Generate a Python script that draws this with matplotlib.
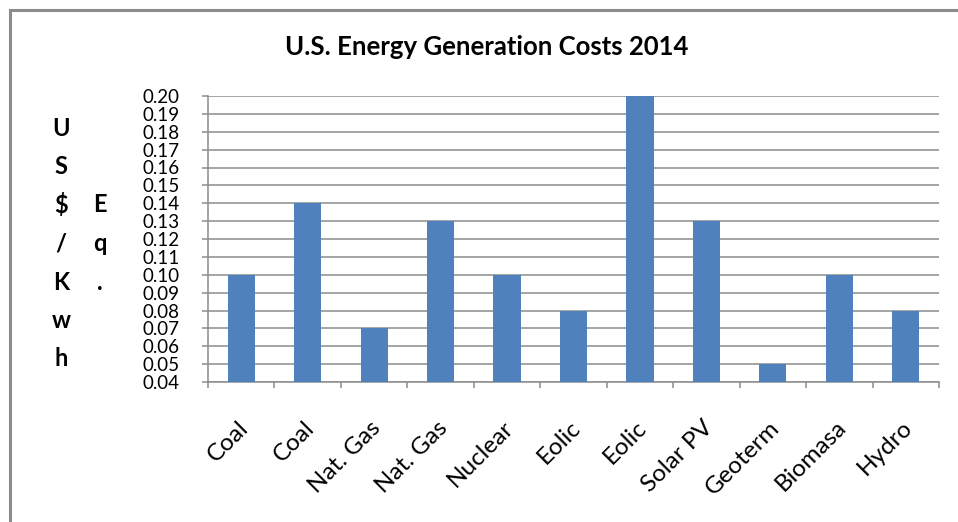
import matplotlib
matplotlib.use("Agg")
import matplotlib.pyplot as plt
from matplotlib.patches import Rectangle
from matplotlib.ticker import FixedLocator, MultipleLocator
import matplotlib.transforms as mtransforms

categories = ["Coal", "Coal", "Nat. Gas", "Nat. Gas", "Nuclear", "Eolic", "Eolic",
              "Solar PV", "Geoterm", "Biomasa", "Hydro"]
costs = [0.10, 0.14, 0.07, 0.13, 0.10, 0.08, 0.20, 0.13, 0.05, 0.10, 0.08]
title = "U.S. Energy Generation Costs 2014"
ylabel_col1 = ["U", "S", "$", "/", "K", "w", "h"]
ylabel_col2 = ["E", "q", "."]

FONT = "Lato"
GRAY = "#8c8c8c"
BAR = "#4F81BD"

W, H = 958, 522
fig = plt.figure(figsize=(W / 100, H / 100), dpi=100)
ax = fig.add_axes([208 / W, 1 - 382 / H, (939 - 208) / W, (382 - 96) / H])

x = list(range(len(categories)))
ax.bar(x, costs, width=0.41, color=BAR, zorder=3)

ax.set_xlim(-0.5, len(categories) - 0.5)
ax.set_ylim(0.04, 0.20)
ax.yaxis.set_major_locator(MultipleLocator(0.01))
ax.yaxis.set_major_formatter(matplotlib.ticker.FormatStrFormatter("%.2f"))
ax.grid(axis="y", color=GRAY, linewidth=1.1, zorder=0)
ax.set_axisbelow(True)

for s in ["top", "right"]:
    ax.spines[s].set_visible(False)
for s in ["left", "bottom"]:
    ax.spines[s].set_color(GRAY)
    ax.spines[s].set_linewidth(1.1)

ax.tick_params(axis="y", direction="out", length=4.5, width=1.1, color=GRAY,
               pad=16, labelsize=13.5)
for lab in ax.get_yticklabels():
    lab.set_fontfamily(FONT)

ax.set_xticks(x)
ax.set_xticklabels(categories)
ax.xaxis.set_minor_locator(FixedLocator([i - 0.5 for i in range(len(categories) + 1)]))
ax.tick_params(axis="x", which="major", length=0, pad=25, labelsize=17.5)
ax.tick_params(axis="x", which="minor", direction="out", length=4.5, width=1.1, color=GRAY)
offset = mtransforms.ScaledTranslation(-4 / 100, 0, fig.dpi_scale_trans)
for lab in ax.get_xticklabels():
    lab.set_rotation(45)
    lab.set_ha("right")
    lab.set_va("top")
    lab.set_rotation_mode("anchor")
    lab.set_fontfamily(FONT)
    lab.set_transform(lab.get_transform() + offset)

fig.text(487 / W, 1 - 47 / H, title, ha="center", va="center",
         fontsize=18.5, fontweight="bold", family=FONT)

row_y = [128, 166.5, 205, 243.5, 282, 320.5, 359]
for ch, yy in zip(ylabel_col1, row_y):
    fig.text(61 / W, 1 - yy / H, ch, ha="center", va="center",
             fontsize=17, fontweight="bold", family=FONT)
for ch, yy in zip(ylabel_col2, row_y[2:]):
    fig.text(100 / W, 1 - yy / H, ch, ha="center", va="center",
             fontsize=17, fontweight="bold", family=FONT)

frame = Rectangle((9.5 / W, -0.05), 1.1, 1 - 9.5 / H + 0.05, transform=fig.transFigure,
                  fill=False, edgecolor=GRAY, linewidth=2.2, clip_on=False)
fig.patches.append(frame)

fig.savefig("out.png", dpi=100)
